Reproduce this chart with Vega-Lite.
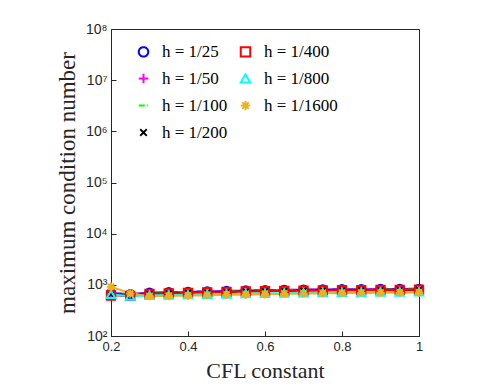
{
  "$schema": "https://vega.github.io/schema/vega-lite/v6.json",
  "width": 308,
  "height": 307,
  "padding": {"left": 56, "top": 22, "right": 5, "bottom": 5},
  "background": "white",
  "data": {"values": [
    {"cfl":0.2,"h":"h = 1/25","k":690},{"cfl":0.25,"h":"h = 1/25","k":660},{"cfl":0.3,"h":"h = 1/25","k":700},{"cfl":0.35,"h":"h = 1/25","k":715},{"cfl":0.4,"h":"h = 1/25","k":730},{"cfl":0.45,"h":"h = 1/25","k":745},{"cfl":0.5,"h":"h = 1/25","k":760},{"cfl":0.55,"h":"h = 1/25","k":775},{"cfl":0.6,"h":"h = 1/25","k":785},{"cfl":0.65,"h":"h = 1/25","k":795},{"cfl":0.7,"h":"h = 1/25","k":805},{"cfl":0.75,"h":"h = 1/25","k":812},{"cfl":0.8,"h":"h = 1/25","k":818},{"cfl":0.85,"h":"h = 1/25","k":824},{"cfl":0.9,"h":"h = 1/25","k":828},{"cfl":0.95,"h":"h = 1/25","k":832},{"cfl":1.0,"h":"h = 1/25","k":836},
    {"cfl":0.2,"h":"h = 1/50","k":680},{"cfl":0.25,"h":"h = 1/50","k":650},{"cfl":0.3,"h":"h = 1/50","k":690},{"cfl":0.35,"h":"h = 1/50","k":705},{"cfl":0.4,"h":"h = 1/50","k":720},{"cfl":0.45,"h":"h = 1/50","k":735},{"cfl":0.5,"h":"h = 1/50","k":750},{"cfl":0.55,"h":"h = 1/50","k":765},{"cfl":0.6,"h":"h = 1/50","k":775},{"cfl":0.65,"h":"h = 1/50","k":785},{"cfl":0.7,"h":"h = 1/50","k":795},{"cfl":0.75,"h":"h = 1/50","k":802},{"cfl":0.8,"h":"h = 1/50","k":808},{"cfl":0.85,"h":"h = 1/50","k":814},{"cfl":0.9,"h":"h = 1/50","k":818},{"cfl":0.95,"h":"h = 1/50","k":822},{"cfl":1.0,"h":"h = 1/50","k":826},
    {"cfl":0.2,"h":"h = 1/100","k":670},{"cfl":0.25,"h":"h = 1/100","k":640},{"cfl":0.3,"h":"h = 1/100","k":680},{"cfl":0.35,"h":"h = 1/100","k":695},{"cfl":0.4,"h":"h = 1/100","k":710},{"cfl":0.45,"h":"h = 1/100","k":725},{"cfl":0.5,"h":"h = 1/100","k":740},{"cfl":0.55,"h":"h = 1/100","k":755},{"cfl":0.6,"h":"h = 1/100","k":765},{"cfl":0.65,"h":"h = 1/100","k":775},{"cfl":0.7,"h":"h = 1/100","k":785},{"cfl":0.75,"h":"h = 1/100","k":792},{"cfl":0.8,"h":"h = 1/100","k":798},{"cfl":0.85,"h":"h = 1/100","k":804},{"cfl":0.9,"h":"h = 1/100","k":808},{"cfl":0.95,"h":"h = 1/100","k":812},{"cfl":1.0,"h":"h = 1/100","k":816},
    {"cfl":0.2,"h":"h = 1/200","k":660},{"cfl":0.25,"h":"h = 1/200","k":630},{"cfl":0.3,"h":"h = 1/200","k":670},{"cfl":0.35,"h":"h = 1/200","k":685},{"cfl":0.4,"h":"h = 1/200","k":700},{"cfl":0.45,"h":"h = 1/200","k":715},{"cfl":0.5,"h":"h = 1/200","k":730},{"cfl":0.55,"h":"h = 1/200","k":745},{"cfl":0.6,"h":"h = 1/200","k":755},{"cfl":0.65,"h":"h = 1/200","k":765},{"cfl":0.7,"h":"h = 1/200","k":775},{"cfl":0.75,"h":"h = 1/200","k":782},{"cfl":0.8,"h":"h = 1/200","k":788},{"cfl":0.85,"h":"h = 1/200","k":794},{"cfl":0.9,"h":"h = 1/200","k":798},{"cfl":0.95,"h":"h = 1/200","k":802},{"cfl":1.0,"h":"h = 1/200","k":806},
    {"cfl":0.2,"h":"h = 1/400","k":620},{"cfl":0.25,"h":"h = 1/400","k":610},{"cfl":0.3,"h":"h = 1/400","k":665},{"cfl":0.35,"h":"h = 1/400","k":680},{"cfl":0.4,"h":"h = 1/400","k":695},{"cfl":0.45,"h":"h = 1/400","k":710},{"cfl":0.5,"h":"h = 1/400","k":725},{"cfl":0.55,"h":"h = 1/400","k":740},{"cfl":0.6,"h":"h = 1/400","k":750},{"cfl":0.65,"h":"h = 1/400","k":760},{"cfl":0.7,"h":"h = 1/400","k":770},{"cfl":0.75,"h":"h = 1/400","k":777},{"cfl":0.8,"h":"h = 1/400","k":783},{"cfl":0.85,"h":"h = 1/400","k":789},{"cfl":0.9,"h":"h = 1/400","k":793},{"cfl":0.95,"h":"h = 1/400","k":797},{"cfl":1.0,"h":"h = 1/400","k":801},
    {"cfl":0.2,"h":"h = 1/800","k":650},{"cfl":0.25,"h":"h = 1/800","k":600},{"cfl":0.3,"h":"h = 1/800","k":620},{"cfl":0.35,"h":"h = 1/800","k":630},{"cfl":0.4,"h":"h = 1/800","k":640},{"cfl":0.45,"h":"h = 1/800","k":650},{"cfl":0.5,"h":"h = 1/800","k":660},{"cfl":0.55,"h":"h = 1/800","k":670},{"cfl":0.6,"h":"h = 1/800","k":680},{"cfl":0.65,"h":"h = 1/800","k":690},{"cfl":0.7,"h":"h = 1/800","k":700},{"cfl":0.75,"h":"h = 1/800","k":705},{"cfl":0.8,"h":"h = 1/800","k":710},{"cfl":0.85,"h":"h = 1/800","k":715},{"cfl":0.9,"h":"h = 1/800","k":720},{"cfl":0.95,"h":"h = 1/800","k":724},{"cfl":1.0,"h":"h = 1/800","k":728},
    {"cfl":0.2,"h":"h = 1/1600","k":920},{"cfl":0.25,"h":"h = 1/1600","k":680},{"cfl":0.3,"h":"h = 1/1600","k":600},{"cfl":0.35,"h":"h = 1/1600","k":605},{"cfl":0.4,"h":"h = 1/1600","k":615},{"cfl":0.45,"h":"h = 1/1600","k":625},{"cfl":0.5,"h":"h = 1/1600","k":635},{"cfl":0.55,"h":"h = 1/1600","k":645},{"cfl":0.6,"h":"h = 1/1600","k":655},{"cfl":0.65,"h":"h = 1/1600","k":665},{"cfl":0.7,"h":"h = 1/1600","k":675},{"cfl":0.75,"h":"h = 1/1600","k":682},{"cfl":0.8,"h":"h = 1/1600","k":688},{"cfl":0.85,"h":"h = 1/1600","k":694},{"cfl":0.9,"h":"h = 1/1600","k":698},{"cfl":0.95,"h":"h = 1/1600","k":702},{"cfl":1.0,"h":"h = 1/1600","k":706}
  ]},
  "encoding": {
    "x": {"field": "cfl", "type": "quantitative",
      "scale": {"domain": [0.2, 1], "nice": false, "zero": false},
      "axis": {"title": "CFL constant", "values": [0.2, 0.4, 0.6, 0.8, 1], "format": "~g", "grid": false, "labelFlush": false,
        "labelFont": "Liberation Sans", "labelFontSize": 13, "labelColor": "#262626", "labelPadding": 9,
        "titleFont": "Liberation Serif", "titleFontSize": 22, "titleFontWeight": "normal", "titleColor": "#262626", "titlePadding": 7,
        "tickColor": "#262626", "domainColor": "#262626", "tickSize": -5}},
    "y": {"field": "k", "type": "quantitative",
      "scale": {"type": "log", "domain": [100, 100000000], "nice": false},
      "axis": {"title": "maximum condition number", "values": [100, 1000, 10000, 100000, 1000000, 10000000, 100000000], "grid": false, "labelFlush": false,
        "labelExpr": "'10' + ['⁰','¹','²','³','⁴','⁵','⁶','⁷','⁸'][round(log(datum.value)/LN10)]",
        "labelFont": "Liberation Sans", "labelFontSize": 14, "labelColor": "#262626", "labelPadding": 9,
        "titleFont": "Liberation Serif", "titleFontSize": 23, "titleFontWeight": "normal", "titleColor": "#262626", "titlePadding": 6,
        "tickColor": "#262626", "domainColor": "#262626", "tickSize": -5}}
  },
  "layer": [
    {"mark": {"type": "line", "strokeWidth": 2},
     "encoding": {
       "color": {"field": "h", "type": "nominal",
         "scale": {"domain": ["h = 1/25", "h = 1/50", "h = 1/100", "h = 1/200", "h = 1/400", "h = 1/800", "h = 1/1600"],
           "range": ["#0000FF", "#FF00FF", "#00FF00", "#000000", "#FF0000", "#00FFFF", "#EDB120"]}},
       "strokeDash": {"field": "h", "type": "nominal",
         "scale": {"domain": ["h = 1/25", "h = 1/50", "h = 1/100", "h = 1/200", "h = 1/400", "h = 1/800", "h = 1/1600"],
           "range": [[1,0],[1,0],[6,2,1,2],[1,0],[1,0],[1,0],[1,0]]}}
     }},
    {"mark": {"type": "point", "filled": false, "strokeWidth": 2, "size": 70, "opacity": 1},
     "encoding": {
       "shape": {"field": "h", "type": "nominal",
         "scale": {"domain": ["h = 1/25", "h = 1/50", "h = 1/100", "h = 1/200", "h = 1/400", "h = 1/800", "h = 1/1600"],
           "range": ["circle", "M-1,0L1,0M0,-1L0,1", "M-1,0L1,0", "M-0.7,-0.7L0.7,0.7M-0.7,0.7L0.7,-0.7", "square", "triangle-up", "M-1,0L1,0M0,-1L0,1M-0.7,-0.7L0.7,0.7M-0.7,0.7L0.7,-0.7"]}},
       "color": {"field": "h", "type": "nominal",
         "scale": {"domain": ["h = 1/25", "h = 1/50", "h = 1/100", "h = 1/200", "h = 1/400", "h = 1/800", "h = 1/1600"],
           "range": ["#0000FF", "#FF00FF", "#00FF00", "#000000", "#FF0000", "#00FFFF", "#EDB120"]}}
     }}
  ],
  "config": {
    "view": {"stroke": "#262626", "strokeWidth": 1},
    "legend": {"orient": "none", "legendX": 24, "legendY": 14, "columns": 2, "title": null,
      "labelFont": "Liberation Serif", "labelFontSize": 17, "labelColor": "#000000", "labelFontStyle": "normal",
      "symbolSize": 90, "symbolStrokeWidth": 2, "symbolOpacity": 1, "rowPadding": 8, "columnPadding": 8, "labelOffset": 10}
  }
}
